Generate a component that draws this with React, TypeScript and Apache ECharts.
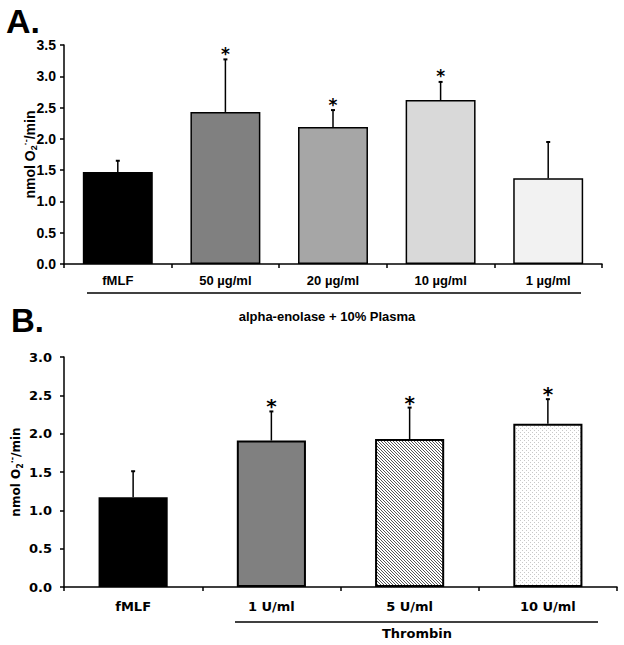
import React, { useEffect, useRef } from 'react';
import * as echarts from 'echarts';

const categoriesA = ['fMLF', '50 µg/ml', '20 µg/ml', '10 µg/ml', '1 µg/ml'];
const meansA = [1.47, 2.43, 2.19, 2.62, 1.37];
const errorsA = [0.18, 0.84, 0.27, 0.29, 0.58];
const significantA = [0, 1, 1, 1, 0];
const colorsA = ['#000000', '#808080', '#a6a6a6', '#d9d9d9', '#f2f2f2'];

const categoriesB = ['fMLF', '1 U/ml', '5 U/ml', '10 U/ml'];
const meansB = [1.17, 1.91, 1.93, 2.13];
const errorsB = [0.34, 0.38, 0.41, 0.32];
const significantB = [0, 1, 1, 1];

const groupLabelA = 'alpha-enolase + 10% Plasma';
const groupLabelB = 'Thrombin';

const FONT_A = "'Liberation Sans Narrow', 'Arial Narrow', 'Liberation Sans', sans-serif";
const FONT_B = "'DejaVu Sans', Verdana, sans-serif";

function makeHatch() {
  const c = document.createElement('canvas');
  c.width = 6; c.height = 6;
  const ctx = c.getContext('2d')!;
  ctx.fillStyle = '#ffffff';
  ctx.fillRect(0, 0, 6, 6);
  ctx.fillStyle = '#555555';
  for (let y = 0; y < 6; y++) for (let x = 0; x < 6; x++) {
    if (((x - y) % 3 + 3) % 3 === 0) ctx.fillRect(x, y, 1, 1);
  }
  return c;
}
function makeDots() {
  const c = document.createElement('canvas');
  c.width = 4; c.height = 4;
  const ctx = c.getContext('2d')!;
  ctx.fillStyle = '#ffffff';
  ctx.fillRect(0, 0, 4, 4);
  ctx.fillStyle = '#c8c8c8';
  ctx.fillRect(0, 0, 1, 1);
  ctx.fillRect(2, 2, 1, 1);
  return c;
}

function errorRenderer(starSize: number, starOffset: number) {
  return (params: any, api: any) => {
    const x = api.value(0);
    const m = api.value(1);
    const e = api.value(2);
    const s = api.value(3);
    const base = api.coord([x, m]);
    const top = api.coord([x, m + e]);
    const children: any[] = [
      { type: 'line', shape: { x1: base[0], y1: base[1], x2: top[0], y2: top[1] }, style: { stroke: '#000', lineWidth: 1.5 } },
      { type: 'line', shape: { x1: top[0] - 2, y1: top[1], x2: top[0] + 2, y2: top[1] }, style: { stroke: '#000', lineWidth: 2 } },
    ];
    if (s) {
      children.push({
        type: 'text', x: top[0], y: top[1] + starOffset,
        style: { text: '*', font: `bold ${starSize}px 'DejaVu Sans', sans-serif`, textAlign: 'center', textVerticalAlign: 'bottom', fill: '#000' },
      });
    }
    return { type: 'group', children };
  };
}

export default function App() {
  const ref = useRef<HTMLDivElement>(null);
  useEffect(() => {
    if (!ref.current) return;
    const chart = echarts.init(ref.current, null, { renderer: 'svg' });
    const hatch = makeHatch();
    const dots = makeDots();
    const colorsB: any[] = [
      '#000000',
      '#808080',
      { image: hatch, repeat: 'repeat', imageWidth: 6, imageHeight: 6 },
      { image: dots, repeat: 'repeat', imageWidth: 4, imageHeight: 4 },
    ];
    const axisCommon = {
      axisLine: { show: true, lineStyle: { color: '#000', width: 1.5 } },
      axisTick: { show: true, length: 4, lineStyle: { color: '#000', width: 1.5 } },
      splitLine: { show: false },
    };
    const option: any = {
      animation: false,
      backgroundColor: '#ffffff',
      grid: [
        { left: 64, top: 45, width: 538, height: 219 },
        { left: 63, top: 357, width: 554, height: 230 },
      ],
      xAxis: [
        {
          type: 'category', gridIndex: 0, data: categoriesA, ...axisCommon,
          axisLabel: { margin: 10, fontFamily: FONT_A, fontWeight: 'bold', fontSize: 13, color: '#000' },
        },
        {
          type: 'category', gridIndex: 1, data: categoriesB, ...axisCommon,
          axisLabel: { margin: 13, fontFamily: FONT_B, fontWeight: 'bold', fontSize: 13, color: '#000' },
        },
      ],
      yAxis: [
        {
          type: 'value', gridIndex: 0, min: 0, max: 3.5, interval: 0.5, ...axisCommon,
          axisLabel: { margin: 8, fontFamily: FONT_A, fontWeight: 'bold', fontSize: 14, color: '#000', formatter: (v: number) => v.toFixed(1) },
          name: 'nmol O{sub|2}{sup|·-}/min', nameLocation: 'middle', nameGap: 26, nameMoveOverlap: false,
          nameTextStyle: {
            fontFamily: FONT_A, fontWeight: 'bold', fontSize: 14, color: '#000',
            rich: {
              sub: { fontFamily: FONT_A, fontWeight: 'bold', fontSize: 9, verticalAlign: 'bottom', padding: [8, 0, 0, 0] },
              sup: { fontFamily: FONT_A, fontWeight: 'bold', fontSize: 9, verticalAlign: 'top', padding: [0, 0, 6, 0] },
            },
          },
        },
        {
          type: 'value', gridIndex: 1, min: 0, max: 3, interval: 0.5, ...axisCommon,
          axisLabel: { margin: 12, fontFamily: FONT_B, fontWeight: 'bold', fontSize: 13, color: '#000', formatter: (v: number) => v.toFixed(1) },
          name: 'nmol O{sub|2}{sup|·-}/min', nameLocation: 'middle', nameGap: 40, nameMoveOverlap: false,
          nameTextStyle: {
            fontFamily: FONT_B, fontWeight: 'bold', fontSize: 12, color: '#000',
            rich: {
              sub: { fontFamily: FONT_B, fontWeight: 'bold', fontSize: 8, verticalAlign: 'bottom', padding: [8, 0, 0, 0] },
              sup: { fontFamily: FONT_B, fontWeight: 'bold', fontSize: 8, verticalAlign: 'top', padding: [0, 0, 6, 0] },
            },
          },
        },
      ],
      series: [
        {
          type: 'bar', xAxisIndex: 0, yAxisIndex: 0, barWidth: '65%',
          itemStyle: { borderColor: '#000', borderWidth: 1.5 },
          data: meansA.map((v, i) => ({ value: v, itemStyle: { color: colorsA[i] } })),
        },
        {
          type: 'custom', xAxisIndex: 0, yAxisIndex: 0, z: 5,
          renderItem: errorRenderer(17, 3),
          encode: { x: 0, y: 1 },
          data: meansA.map((v, i) => [i, v, errorsA[i], significantA[i]]),
        },
        {
          type: 'bar', xAxisIndex: 1, yAxisIndex: 1, barWidth: '50%',
          itemStyle: { borderColor: '#000', borderWidth: 2 },
          data: meansB.map((v, i) => ({ value: v, itemStyle: { color: colorsB[i] } })),
        },
        {
          type: 'custom', xAxisIndex: 1, yAxisIndex: 1, z: 5,
          renderItem: errorRenderer(20, 5),
          encode: { x: 0, y: 1 },
          data: meansB.map((v, i) => [i, v, errorsB[i], significantB[i]]),
        },
      ],
      graphic: [
        { type: 'text', left: 6, top: 4, style: { text: 'A.', font: "bold 34px 'Liberation Sans', Arial, sans-serif", fill: '#000' } },
        { type: 'text', left: 11, top: 304, style: { text: 'B.', font: "bold 33px 'Liberation Sans', Arial, sans-serif", fill: '#000' } },
        { type: 'line', shape: { x1: 87, y1: 293, x2: 581, y2: 293 }, style: { stroke: '#000', lineWidth: 1.5 } },
        { type: 'text', x: 327, y: 316, style: { text: groupLabelA, font: `bold 13px ${FONT_A}`, fill: '#000', textAlign: 'center', textVerticalAlign: 'middle' } },
        { type: 'line', shape: { x1: 235, y1: 622, x2: 598, y2: 622 }, style: { stroke: '#000', lineWidth: 1.5 } },
        { type: 'text', x: 417, y: 633, style: { text: groupLabelB, font: `bold 13px ${FONT_B}`, fill: '#000', textAlign: 'center', textVerticalAlign: 'middle' } },
      ],
    };
    chart.setOption(option);
    return () => chart.dispose();
  }, []);
  return <div ref={ref} style={{ position: 'fixed', left: 0, top: 0, width: 624, height: 645 }} />;
}
